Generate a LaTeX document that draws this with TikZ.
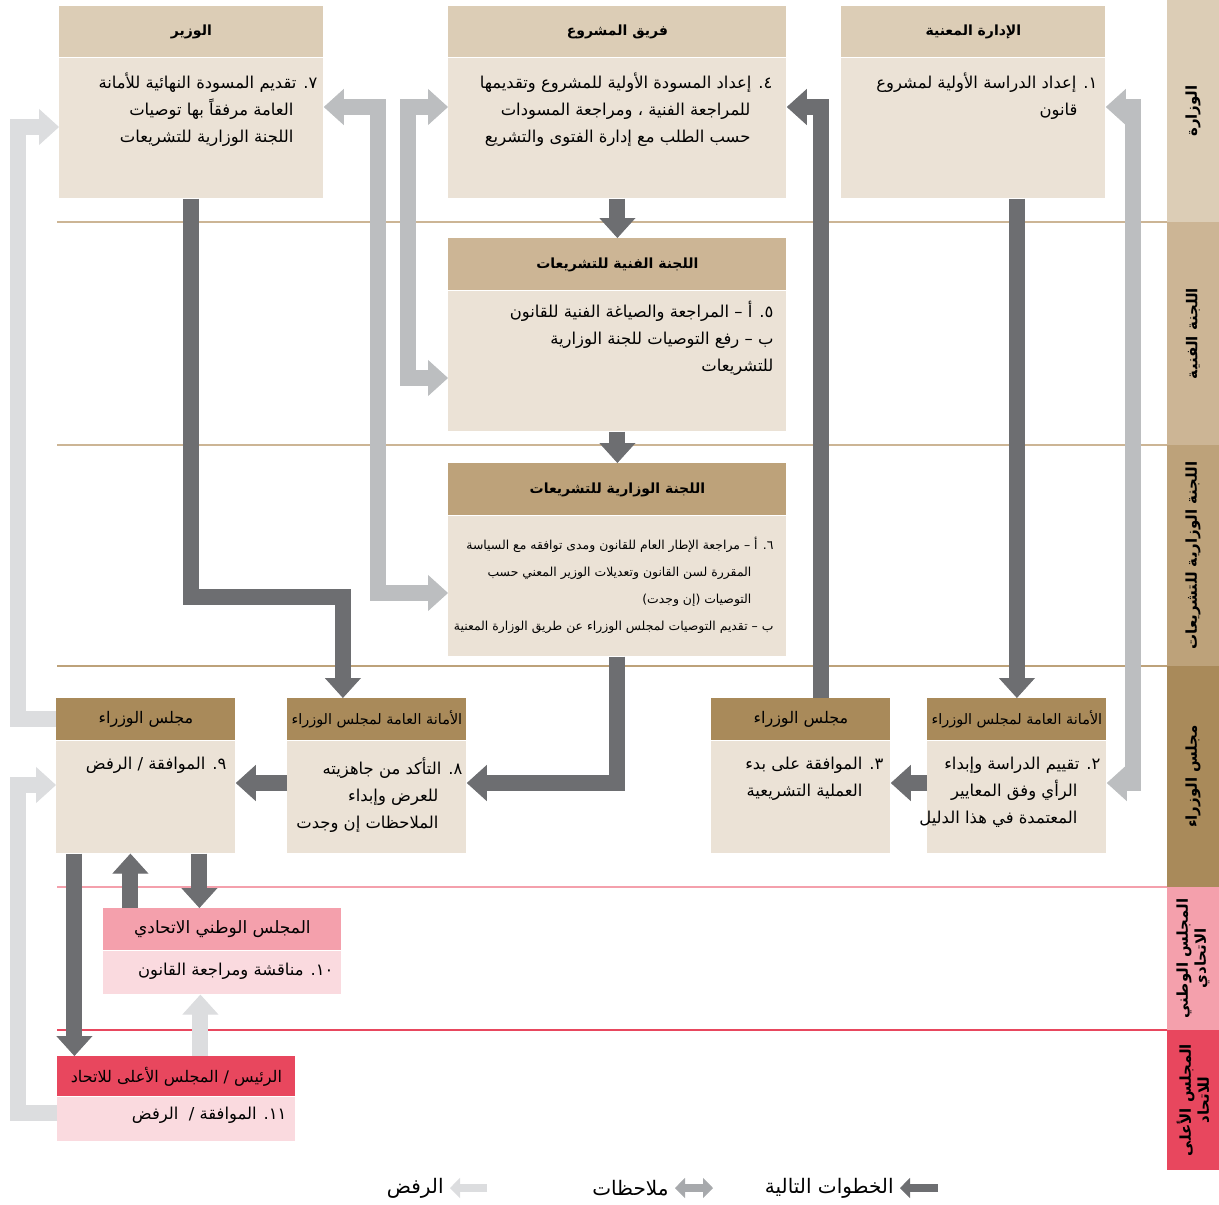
\documentclass[tikz,border=0pt]{standalone}
\usepackage{fontspec}
\usetikzlibrary{arrows.meta,calc,positioning}
\newfontfamily\arabicfont[Script=Arabic]{DejaVu Sans}
\TeXXeTstate=1
\newcommand{\ar}[1]{\beginR#1\endR}
\definecolor{tanA}{HTML}{DCCDB6}
\definecolor{tanB}{HTML}{CCB595}
\definecolor{tanC}{HTML}{BDA27A}
\definecolor{tanD}{HTML}{A98A5A}
\definecolor{boxbody}{HTML}{EBE2D6}
\definecolor{pinkA}{HTML}{F4A0AC}
\definecolor{pinkbody}{HTML}{FADADF}
\definecolor{redA}{HTML}{E8475E}
\definecolor{arrdark}{HTML}{6D6E71}
\definecolor{arrmid}{HTML}{BCBEC0}
\definecolor{arrlegend}{HTML}{A7A9AC}
\definecolor{arrlight}{HTML}{DCDDDF}
\tikzset{%
	hdr/.style      = {anchor=north west, inner sep=0pt, font=\arabicfont\bfseries\fontsize{7}{9}\selectfont},
	hdrplain/.style = {hdr, font=\arabicfont\fontsize{8}{9}\selectfont},
	bodybox/.style  = {anchor=north west, inner sep=0pt, fill=boxbody},
	txt/.style      = {anchor=north east, inner sep=0pt, align=right, font=\arabicfont\fontsize{8.2}{13.5}\selectfont},
	lane/.style     = {rotate=90, inner sep=0pt, minimum height=26pt, align=center, font=\arabicfont\bfseries\fontsize{7.5}{9}\selectfont},
	sep/.style      = {line width=1pt},
	nextstep/.style = {arrdark, line width=8pt, -{Triangle[width=18pt,length=10pt,line width=0.5pt]}},
	notes/.style    = {arrmid, line width=8pt, {Triangle[width=18pt,length=10pt,line width=0.5pt]}-{Triangle[width=18pt,length=10pt,line width=0.5pt]}},
	reject/.style   = {arrlight, line width=8pt, -{Triangle[width=18pt,length=10pt,line width=0.5pt]}},
	legtxt/.style   = {anchor=east, inner sep=3pt, font=\arabicfont\fontsize{10}{12}\selectfont},
	legnext/.style  = {arrdark, line width=4pt, -{Triangle[width=10pt,length=5pt,line width=0.5pt]}},
	legnotes/.style = {arrlegend, line width=4pt, {Triangle[width=10pt,length=5pt,line width=0.5pt]}-{Triangle[width=10pt,length=5pt,line width=0.5pt]}},
	legreject/.style= {arrlight, line width=4pt, -{Triangle[width=10pt,length=5pt,line width=0.5pt]}},
}
\begin{document}
\begin{tikzpicture}[x=0.5pt,y=-0.5pt]
	\useasboundingbox (0,0) rectangle (1219,1204);
	% lanes on the right
	\node[lane, fill=tanA, minimum width=111pt] (laneMin) at (1193,111) {\ar{الوزارة}};
	\node[lane, fill=tanB, minimum width=111.5pt] (laneTech) at (1193,333.5) {\ar{اللجنة الفنية}};
	\node[lane, fill=tanC, minimum width=110.5pt] (laneMinCom) at (1193,555.5) {\ar{اللجنة الوزارية للتشريعات}};
	\node[lane, fill=tanD, minimum width=110.5pt] (laneCab) at (1193,776.5) {\ar{مجلس الوزراء}};
	\node[lane, fill=pinkA, minimum width=71.5pt] (laneNat) at (1193,958.5) {\ar{المجلس الوطني}\\\ar{الاتحادي}};
	\node[lane, fill=redA, minimum width=70pt] (laneSup) at (1193,1100) {\ar{المجلس الأعلى}\\\ar{للاتحاد}};
	
	\draw[sep, color=tanB] (57,222) -- (1167,222);
	\draw[sep, color=tanB] (57,445) -- (1167,445);
	\draw[sep, color=tanC] (57,666) -- (1167,666);
	\draw[sep, color=pinkA] (57,887) -- (1167,887);
	\draw[sep, color=redA] (57,1030) -- (1167,1030);
	
	% row 1
	\node[hdr, fill=tanA, minimum width=132pt, minimum height=25.5pt] (hdrDept) at (841,6) {\ar{الإدارة المعنية}};
	\node[bodybox, minimum width=132pt, minimum height=70pt] (bodyDept) at (hdrDept.south west) {};
	\node[txt] (txtDept) at ([xshift=-4pt,yshift=-7.5pt]bodyDept.north east) {\ar{١. إعداد الدراسة الأولية لمشروع}\\\ar{\hspace{10pt}قانون}};
	
	\node[hdr, fill=tanA, minimum width=169pt, minimum height=25.5pt] (hdrTeam) at (448,6) {\ar{فريق المشروع}};
	\node[bodybox, minimum width=169pt, minimum height=70pt] (bodyTeam) at (hdrTeam.south west) {};
	\node[txt] (txtTeam) at ([xshift=-7pt,yshift=-7.5pt]bodyTeam.north east) {\ar{٤. إعداد المسودة الأولية للمشروع وتقديمها}\\\ar{\hspace{11pt}للمراجعة الفنية ، ومراجعة المسودات}\\\ar{\hspace{11pt}حسب الطلب مع إدارة الفتوى والتشريع}};
	
	\node[hdr, fill=tanA, minimum width=132pt, minimum height=25.5pt] (hdrMinister) at (59,6) {\ar{الوزير}};
	\node[bodybox, minimum width=132pt, minimum height=70pt] (bodyMinister) at (hdrMinister.south west) {};
	\node[txt] (txtMinister) at ([xshift=-3pt,yshift=-7.5pt]bodyMinister.north east) {\ar{٧. تقديم المسودة النهائية للأمانة}\\\ar{\hspace{12pt}العامة مرفقاً بها توصيات}\\\ar{\hspace{12pt}اللجنة الوزارية للتشريعات}};
	
	% rows 2 and 3
	\node[hdr, fill=tanB, minimum width=169pt, minimum height=26pt] (hdrTechCom) at (448,238) {\ar{اللجنة الفنية للتشريعات}};
	\node[bodybox, minimum width=169pt, minimum height=70pt] (bodyTechCom) at (hdrTechCom.south west) {};
	\node[txt] (txtTechCom) at ([xshift=-6.5pt,yshift=-5pt]bodyTechCom.north east) {\ar{٥. أ – المراجعة والصياغة الفنية للقانون}\\\ar{ب – رفع التوصيات للجنة الوزارية}\\\ar{للتشريعات}};
	
	\node[hdr, fill=tanC, minimum width=169pt, minimum height=26pt] (hdrMinCom) at (448,463) {\ar{اللجنة الوزارية للتشريعات}};
	\node[bodybox, minimum width=169pt, minimum height=70pt] (bodyMinCom) at (hdrMinCom.south west) {};
	\node[txt, font=\arabicfont\fontsize{6.2}{13.5}\selectfont] (txtMinCom) at ([xshift=-6.5pt,yshift=-10.5pt]bodyMinCom.north east) {\ar{٦. أ – مراجعة الإطار العام للقانون ومدى توافقه مع السياسة}\\\ar{\hspace{11pt}المقررة لسن القانون وتعديلات الوزير المعني حسب}\\\ar{\hspace{11pt}التوصيات (إن وجدت)}\\\ar{ب – تقديم التوصيات لمجلس الوزراء عن طريق الوزارة المعنية}};
	
	% row 4
	\node[hdrplain, fill=tanD, minimum width=89.5pt, minimum height=21pt] (hdrCabB) at (56,698) {\ar{مجلس الوزراء}};
	\node[bodybox, minimum width=89.5pt, minimum height=56pt] (bodyCabB) at (hdrCabB.south west) {};
	\node[txt] (txtCabB) at ([xshift=-4.5pt,yshift=-8pt]bodyCabB.north east) {\ar{٩. الموافقة / الرفض}};
	
	\node[hdrplain, fill=tanD, minimum width=89.5pt, minimum height=21pt, font=\arabicfont\fontsize{7.2}{9}\selectfont] (hdrSecB) at (287,698) {\ar{الأمانة العامة لمجلس الوزراء}};
	\node[bodybox, minimum width=89.5pt, minimum height=56pt] (bodySecB) at (hdrSecB.south west) {};
	\node[txt] (txtSecB) at ([xshift=-2pt,yshift=-8pt]bodySecB.north east) {\ar{٨. التأكد من جاهزيته}\\\ar{\hspace{12pt}للعرض وإبداء}\\\ar{\hspace{12pt}الملاحظات إن وجدت}};
	
	\node[hdrplain, fill=tanD, minimum width=89.5pt, minimum height=21pt] (hdrCabA) at (711,698) {\ar{مجلس الوزراء}};
	\node[bodybox, minimum width=89.5pt, minimum height=56pt] (bodyCabA) at (hdrCabA.south west) {};
	\node[txt] (txtCabA) at ([xshift=-3.5pt,yshift=-8pt]bodyCabA.north east) {\ar{٣. الموافقة على بدء}\\\ar{\hspace{10.5pt}العملية التشريعية}};
	
	\node[hdrplain, fill=tanD, minimum width=89.5pt, minimum height=21pt, font=\arabicfont\fontsize{7.2}{9}\selectfont] (hdrSecA) at (927,698) {\ar{الأمانة العامة لمجلس الوزراء}};
	\node[bodybox, minimum width=89.5pt, minimum height=56pt] (bodySecA) at (hdrSecA.south west) {};
	\node[txt] (txtSecA) at ([xshift=-3pt,yshift=-8pt]bodySecA.north east) {\ar{٢. تقييم الدراسة وإبداء}\\\ar{\hspace{11.5pt}الرأي وفق المعايير}\\\ar{\hspace{11.5pt}المعتمدة في هذا الدليل}};
	
	% rows 5 and 6
	\node[hdrplain, fill=pinkA, minimum width=119pt, minimum height=21pt, font=\arabicfont\fontsize{8.5}{9}\selectfont] (hdrNat) at (103,908) {\ar{المجلس الوطني الاتحادي}};
	\node[bodybox, fill=pinkbody, minimum width=119pt, minimum height=21.5pt] (bodyNat) at (hdrNat.south west) {};
	\node[txt] (txtNat) at ([xshift=-4pt,yshift=-6pt]bodyNat.north east) {\ar{١٠. مناقشة ومراجعة القانون}};
	
	\node[hdrplain, fill=redA, minimum width=119pt, minimum height=20pt] (hdrSup) at (57,1056) {\ar{الرئيس / المجلس الأعلى للاتحاد}};
	\node[bodybox, fill=pinkbody, minimum width=119pt, minimum height=22pt] (bodySup) at (hdrSup.south west) {};
	\node[txt] (txtSup) at ([xshift=-4.5pt,yshift=-5pt]bodySup.north east) {\ar{١١. الموافقة /\ \ الرفض}};
	
	% connectors
	\coordinate (rowA) at (0,107);
	\coordinate (rowB) at (0,783);
	\coordinate (secBin) at ([xshift=-17pt]hdrSecB.north);
	\coordinate (cabUp) at ([xshift=-7.75pt]bodyCabB.south);
	\coordinate (cabDown) at ([xshift=26.75pt]bodyCabB.south);
	\coordinate (cabSup) at ([xshift=-35.75pt]bodyCabB.south);
	\coordinate (supUp) at ([xshift=12pt]hdrSup.north);
	
	\draw[notes] (bodyDept.east |- rowA) -| (1133,783) -- (bodySecA.east |- rowB);
	\draw[notes] (bodyMinister.east |- rowA) -| (378,593) -- (bodyMinCom.west |- 0,593);
	\draw[notes] (bodyTeam.west |- rowA) -| (408,378) -- (bodyTechCom.west |- 0,378);
	
	\draw[reject] (hdrCabB.west) -| (18,127) -- (bodyMinister.west |- 0,127);
	\draw[reject] (bodySup.west |- 0,1113) -| (18,785) -- (bodyCabB.west |- 0,785);
	\draw[reject] (supUp) -- (supUp |- bodyNat.south);
	
	\draw[nextstep] (bodyDept.south -| hdrSecA.north) -- (hdrSecA.north);
	\draw[nextstep] (bodySecA.west |- rowB) -- (bodyCabA.east |- rowB);
	\draw[nextstep] ([xshift=10pt]hdrCabA.north) |- (bodyTeam.east |- rowA);
	\draw[nextstep] (bodyTeam.south) -- (hdrTechCom.north);
	\draw[nextstep] (bodyTechCom.south) -- (hdrMinCom.north);
	\draw[nextstep] (bodyMinCom.south) |- (bodySecB.east |- rowB);
	\draw[nextstep] (bodyMinister.south) |- (secBin |- 0,597) -- (secBin);
	\draw[nextstep] (bodySecB.west |- rowB) -- (bodyCabB.east |- rowB);
	\draw[nextstep] (cabUp |- hdrNat.north) -- (cabUp);
	\draw[nextstep] (cabDown) -- (cabDown |- hdrNat.north);
	\draw[nextstep] (cabSup) -- (cabSup |- hdrSup.north);
	
	% legend
	\coordinate (legNext) at (938,1188);
	\coordinate (legNotes) at (713,1188);
	\coordinate (legReject) at (487,1188);
	\node[legtxt] (legNextTxt) at (900,1188) {\ar{الخطوات التالية}};
	\node[legtxt] (legNotesTxt) at (675,1188) {\ar{ملاحظات}};
	\node[legtxt] (legRejectTxt) at (450,1188) {\ar{الرفض}};
	\draw[legnext] (legNext) -- (legNextTxt.east);
	\draw[legnotes] (legNotes) -- (legNotesTxt.east);
	\draw[legreject] (legReject) -- (legRejectTxt.east);
\end{tikzpicture}
\end{document}
